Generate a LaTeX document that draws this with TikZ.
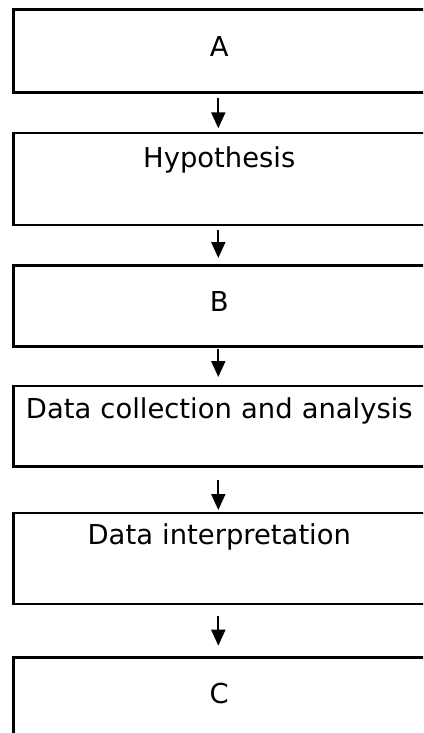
\documentclass[tikz,border=0pt]{standalone}
\usepackage{fontspec}
\setmainfont{DejaVu Sans}
\usetikzlibrary{arrows.meta}
\tikzset{
  flowbox/.style={draw=black, line width=2.6pt, inner xsep=0pt, inner ysep=0pt,
    text width=412pt, align=center, anchor=north west,
    font=\fontsize{27.4pt}{30pt}\selectfont},
  flowarrow/.style={draw=black, line width=2pt, -{Triangle[width=14pt,length=16pt]}}
}
\begin{document}
\begin{tikzpicture}[x=1pt,y=-1pt]
\useasboundingbox (0,0) rectangle (423,733);
\clip (0,0) rectangle (423,733);
\node[flowbox, text height=47pt, text depth=36.3pt] (b1) at (12,8) {A};
\node[flowbox, text height=34.3pt, text depth=57.7pt] (b2) at (12,131.7) {Hypothesis};
\node[flowbox, text height=46pt, text depth=35pt] (b3) at (12,264) {B};
\node[flowbox, text height=32.3pt, text depth=48pt] (b4) at (12,384.7) {Data collection and analysis};
\node[flowbox, text height=31.3pt, text depth=59.7pt] (b5) at (12,511.7) {Data interpretation};
\node[flowbox, text height=46pt, text depth=58pt] (b6) at (12,656) {C};
\draw[flowarrow, shorten <=4.4pt, shorten >=3.4pt] ([xshift=-1pt]b1.south) -- ([xshift=-1pt]b2.north);
\draw[flowarrow, shorten <=4pt, shorten >=6pt] ([xshift=-1pt]b2.south) -- ([xshift=-1pt]b3.north);
\draw[flowarrow, shorten <=1.5pt, shorten >=7.7pt] ([xshift=-1pt]b3.south) -- ([xshift=-1pt]b4.north);
\draw[flowarrow, shorten <=12pt, shorten >=1.7pt] ([xshift=-1pt]b4.south) -- ([xshift=-1pt]b5.north);
\draw[flowarrow, shorten <=11pt, shorten >=10.3pt] ([xshift=-1pt]b5.south) -- ([xshift=-1pt]b6.north);
\end{tikzpicture}
\end{document}
